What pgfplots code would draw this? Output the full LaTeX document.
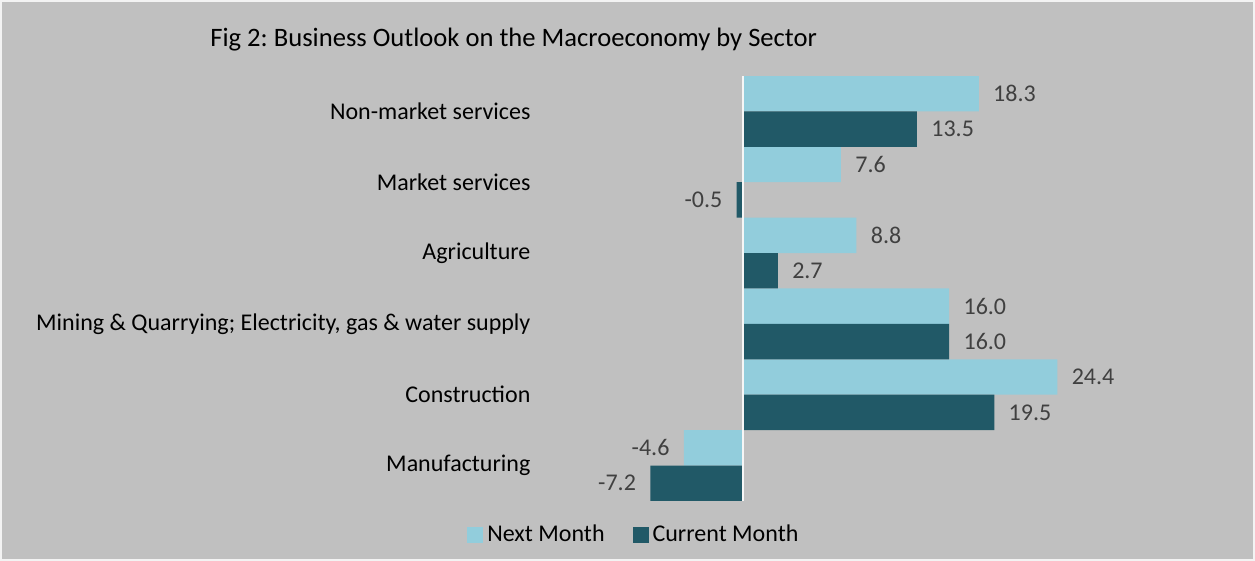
\documentclass[border=0pt]{standalone}
\usepackage{fontspec}
\setmainfont{Carlito}
\usepackage{pgfplots}
\pgfplotsset{compat=1.18}
\definecolor{bg}{HTML}{C0C0C0}
\definecolor{nextc}{HTML}{92CDDC}
\definecolor{curc}{HTML}{215967}
\definecolor{lbl}{HTML}{404040}
\newcommand{\fs}{\fontsize{12}{14}\selectfont}
\frenchspacing

\begin{document}
\begin{tikzpicture}
\fill[bg] (0,0) rectangle (627.5pt,280.5pt);
\draw[white!80!bg,line width=0.8pt] (0.4pt,0.4pt) rectangle (627.1pt,280.1pt);
\node[font=\fontsize{13.3}{16}\selectfont,anchor=west,inner sep=0pt] at (105pt,260.5pt) {Fig 2: Business Outlook on the Macroeconomy by Sector};
\begin{axis}[
  at={(268.5pt,30pt)}, anchor=south west,
  scale only axis, width=270.5pt, height=212.5pt,
  xbar, bar width=0.5,
  xmin=-16, xmax=26, ymin=-0.5, ymax=5.5,
  axis line style={draw=none}, tick style={draw=none},
  xtick=\empty,
  ytick={0,1,2,3,4,5},
  yticklabels={Manufacturing,Construction,{Mining \& Quarrying; Electricity, gas \& water supply},Agriculture,Market services,Non-market services},
  yticklabel style={font=\fs,text=black,xshift=4.5pt},
  clip=false,
  nodes near coords={\pgfmathprintnumber[fixed,fixed zerofill,precision=1,assume math mode=true]{\pgfplotspointmeta}},
  nodes near coords align={horizontal},
  nodes near coords style={font=\fs,text=lbl,inner xsep=7pt},
  point meta=explicit,
  legend columns=2,
  legend style={at={(0.181,-0.08)},anchor=center,draw=none,fill=none,font=\fs,
    /tikz/every even column/.append style={column sep=12pt}},
  legend image code/.code={\fill[#1] (0pt,-4pt) rectangle (8pt,4pt);},
]
\addplot[fill=nextc,draw=none,bar shift=0.25] coordinates {
  (-4.6,0) [-4.6] (24.4,1) [24.4] (16.0,2) [16.0] (8.8,3) [8.8] (7.6,4) [7.6] (18.3,5) [18.3]};
\addlegendentry{Next Month}
\addplot[fill=curc,draw=none,bar shift=-0.25] coordinates {
  (-7.2,0) [-7.2] (19.5,1) [19.5] (16.0,2) [16.0] (2.7,3) [2.7] (-0.5,4) [-0.5] (13.5,5) [13.5]};
\addlegendentry{Current Month}
\draw[white!85!bg,line width=1.2pt] (axis cs:0,-0.5) -- (axis cs:0,5.5);
\end{axis}
\end{tikzpicture}
\end{document}
